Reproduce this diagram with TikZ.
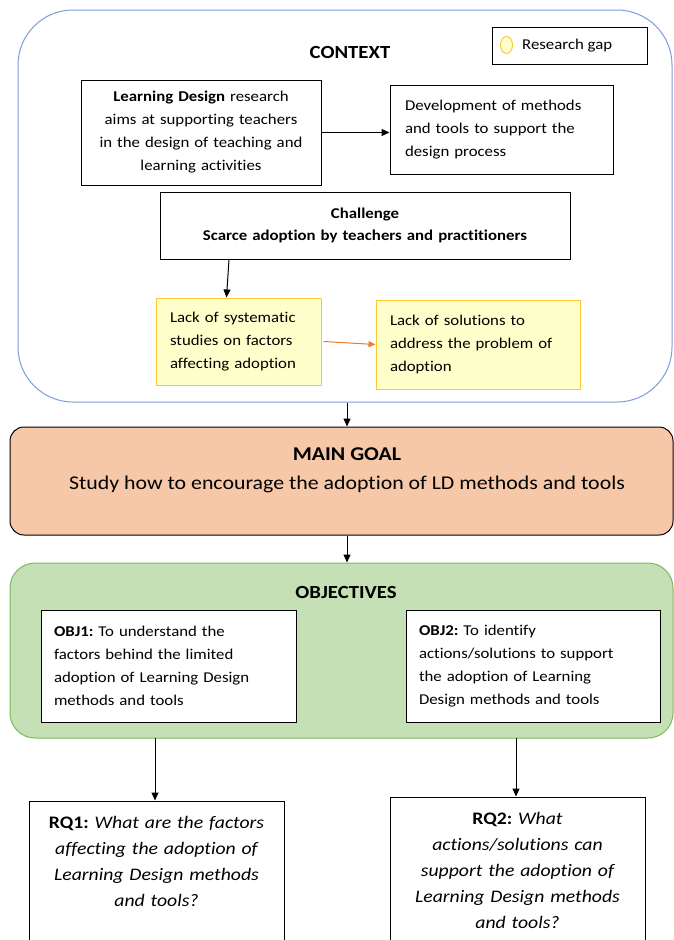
\documentclass[tikz,border=0pt]{standalone}
\usepackage{fontspec}
\setmainfont{Carlito}[FakeStretch=1.12, Ligatures={NoCommon}]
\usetikzlibrary{arrows.meta,shapes.geometric}
\frenchspacing

\definecolor{ctxblue}{RGB}{122,158,216}
\definecolor{gapfill}{RGB}{255,255,204}
\definecolor{gapline}{RGB}{255,200,50}
\definecolor{goalfill}{RGB}{246,200,168}
\definecolor{objfill}{RGB}{197,224,180}
\definecolor{objline}{RGB}{125,185,95}
\definecolor{linkorange}{RGB}{237,125,49}

\tikzset{
  txt/.style={font=\fontsize{15}{23}\selectfont},
  box/.style={draw=black, line width=1pt, fill=white, inner sep=0pt, txt},
  gapbox/.style={box, draw=gapline, fill=gapfill},
  arr/.style={-{Triangle[length=8pt,width=7pt]}, line width=1pt},
  rqtxt/.style={font=\fontsize{17.6}{26}\selectfont\itshape, align=center, inner sep=0pt},
}

\begin{document}
\begin{tikzpicture}[x=1pt,y=-1pt]
\useasboundingbox (0,0) rectangle (674,940);

% ---------- context frame ----------
\node (ctx) [draw=ctxblue, line width=1pt, rounded corners=55pt, inner sep=0pt,
  minimum width=654pt, minimum height=392pt] at (345,206) {};
\node (ctxtitle) [font=\fontsize{18.5}{20}\selectfont\bfseries] at (350,52) {CONTEXT};

% legend
\node (legend) [box, minimum width=155pt, minimum height=37pt] at (569.5,45.5) {};
\node (gapdot) [draw=gapline, fill=gapfill, line width=1pt, ellipse, inner sep=0pt,
  minimum width=12pt, minimum height=17pt] at (506.5,45) {};
\node (gaptxt) [txt, anchor=west, inner sep=0pt] at (522,46) {Research gap};

% context boxes
\node (ld) [box, minimum width=240pt, minimum height=105pt, text width=228pt, align=center]
  at (201,132.5) {\textbf{Learning Design} research\\aims at supporting teachers\\in the design of teaching and\\learning activities};
\node (dev) [box, minimum width=223pt, minimum height=89pt, text width=193pt, align=left]
  at (501.5,129.5) {Development of methods\\and tools to support the\\design process};
\node (chal) [box, minimum width=410pt, minimum height=67pt, text width=400pt, align=center,
  font=\fontsize{15}{22}\selectfont\bfseries]
  at (365,225.5) {Challenge\\Scarce adoption by teachers and practitioners};
\node (gap1) [gapbox, minimum width=165pt, minimum height=87pt, text width=137pt, align=left]
  at (238.5,341.5) {Lack of systematic\\studies on factors\\affecting adoption};
\node (gap2) [gapbox, minimum width=204pt, minimum height=89pt, text width=176pt, align=left]
  at (478,344.5) {Lack of solutions to\\address the problem of\\adoption};

\draw[arr] (ld.east) -- (dev.west |- ld.east);
\draw[arr] ([xshift=-136pt]chal.south) -- ([xshift=-12pt]gap1.north);
\draw[arr, draw=linkorange, fill=linkorange, -{Triangle[length=7pt,width=6pt]}]
  ([xshift=2pt]gap1.east) -- (gap2.west);

% ---------- main goal ----------
\node (goal) [draw=black, line width=1pt, fill=goalfill, rounded corners=14pt, inner sep=0pt,
  minimum width=663pt, minimum height=108pt] at (341.5,481) {};
\node (goalhead) [font=\fontsize{19.5}{22}\selectfont\bfseries] at (347,454) {MAIN GOAL};
\node (goaltxt) [font=\fontsize{19.5}{22}\selectfont] at (347,484)
  {Study how to encourage the adoption of LD methods and tools};

\draw[arr] (ctx.south -| goalhead) -- (goal.north -| goalhead);

% ---------- objectives ----------
\node (obj) [draw=objline, line width=1pt, fill=objfill, rounded corners=25pt, inner sep=0pt,
  minimum width=663pt, minimum height=175pt] at (341.5,650.5) {};
\node (objhead) [font=\fontsize{18.5}{20}\selectfont\bfseries] at (346,592) {OBJECTIVES};
\node (obj1) [box, minimum width=255pt, minimum height=112pt, text width=229pt, align=left]
  at (168.5,666) {\textbf{OBJ1:} To understand the\\factors behind the limited\\adoption of Learning Design\\methods and tools};
\node (obj2) [box, minimum width=254pt, minimum height=112pt, text width=228pt, align=left]
  at (533,666) {\textbf{OBJ2:} To identify\\actions/solutions to support\\the adoption of Learning\\Design methods and tools};

\draw[arr] (goal.south -| goalhead) -- (obj.north -| goalhead);

% ---------- research questions ----------
\node (rq1) [box, minimum width=255pt, minimum height=150pt] at (156.5,876) {};
\node (rq2) [box, minimum width=255pt, minimum height=154pt] at (517.5,874) {};
\node (rq1txt) [rqtxt, anchor=north, text width=245pt] at ([yshift=-16pt]rq1.north)
  {\textup{\bfseries RQ1:} What are the factors\\affecting the adoption of\\Learning Design methods\\and tools?};
\node (rq2txt) [rqtxt, anchor=north, text width=245pt] at ([yshift=-16pt]rq2.north)
  {\textup{\bfseries RQ2:} What\\actions/solutions can\\support the adoption of\\Learning Design methods\\and tools?};

\coordinate (o1out) at (155,738);
\coordinate (o2out) at (516,738);
\draw[arr] (o1out) -- (o1out |- rq1.north);
\draw[arr] (o2out) -- (o2out |- rq2.north);
\end{tikzpicture}
\end{document}
